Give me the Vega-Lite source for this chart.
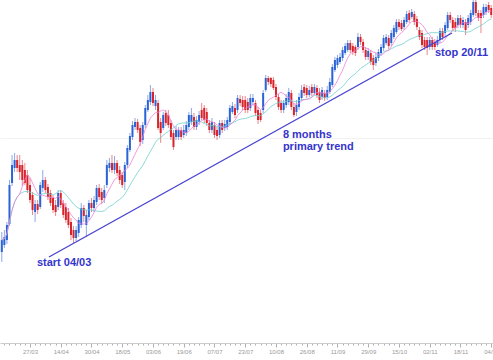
{
  "$schema": "https://vega.github.io/schema/vega-lite/v6.json",
  "width": 493,
  "height": 343,
  "autosize": "none",
  "padding": {"left": 0, "top": 0, "right": 0, "bottom": 17},
  "background": "white",
  "config": {"view": {"stroke": null}},
  "datasets": {
    "candles": [
      {"i":1,"o":91,"h":111,"l":81,"c":103},{"i":2,"o":98,"h":113,"l":95,"c":106},{"i":3,"o":103,"h":121,"l":99,"c":118},{"i":4,"o":119,"h":163,"l":117,"c":158},{"i":5,"o":160,"h":188,"l":157,"c":178},{"i":6,"o":175,"h":190,"l":171,"c":183},{"i":7,"o":183,"h":188,"l":171,"c":175},{"i":8,"o":178,"h":188,"l":163,"c":171},{"i":9,"o":178,"h":183,"l":157,"c":163},{"i":10,"o":173,"h":180,"l":158,"c":160},
      {"i":11,"o":168,"h":173,"l":150,"c":153},{"i":12,"o":158,"h":165,"l":140,"c":143},{"i":13,"o":148,"h":151,"l":128,"c":133},{"i":14,"o":131,"h":143,"l":121,"c":139},{"i":15,"o":139,"h":143,"l":129,"c":133},{"i":16,"o":136,"h":161,"l":134,"c":158},{"i":17,"o":155,"h":173,"l":151,"c":163},{"i":18,"o":163,"h":166,"l":150,"c":153},{"i":19,"o":156,"h":159,"l":143,"c":146},{"i":20,"o":150,"h":153,"l":137,"c":140},
      {"i":21,"o":145,"h":148,"l":130,"c":133},{"i":22,"o":138,"h":143,"l":127,"c":131},{"i":23,"o":136,"h":153,"l":133,"c":150},{"i":24,"o":150,"h":153,"l":135,"c":138},{"i":25,"o":140,"h":143,"l":125,"c":128},{"i":26,"o":136,"h":140,"l":120,"c":123},{"i":27,"o":131,"h":135,"l":115,"c":118},{"i":28,"o":121,"h":125,"l":103,"c":108},{"i":29,"o":113,"h":117,"l":100,"c":105},{"i":30,"o":105,"h":117,"l":102,"c":113},
      {"i":31,"o":110,"h":126,"l":106,"c":123},{"i":32,"o":118,"h":140,"l":115,"c":135},{"i":33,"o":135,"h":138,"l":121,"c":127},{"i":34,"o":118,"h":133,"l":106,"c":128},{"i":35,"o":126,"h":143,"l":123,"c":140},{"i":36,"o":140,"h":145,"l":131,"c":135},{"i":37,"o":135,"h":147,"l":131,"c":143},{"i":38,"o":141,"h":158,"l":138,"c":155},{"i":39,"o":155,"h":159,"l":143,"c":146},{"i":40,"o":151,"h":155,"l":139,"c":143},
      {"i":41,"o":145,"h":158,"l":140,"c":153},{"i":42,"o":158,"h":183,"l":155,"c":178},{"i":43,"o":175,"h":185,"l":171,"c":180},{"i":44,"o":180,"h":188,"l":170,"c":173},{"i":45,"o":173,"h":187,"l":169,"c":180},{"i":46,"o":180,"h":183,"l":167,"c":170},{"i":47,"o":173,"h":177,"l":159,"c":163},{"i":48,"o":168,"h":171,"l":155,"c":158},{"i":49,"o":161,"h":181,"l":153,"c":178},{"i":50,"o":178,"h":198,"l":175,"c":195},
      {"i":51,"o":193,"h":210,"l":191,"c":207},{"i":52,"o":206,"h":222,"l":203,"c":218},{"i":53,"o":216,"h":225,"l":213,"c":221},{"i":54,"o":221,"h":224,"l":210,"c":213},{"i":55,"o":215,"h":218,"l":197,"c":201},{"i":56,"o":203,"h":221,"l":199,"c":218},{"i":57,"o":218,"h":238,"l":215,"c":235},{"i":58,"o":233,"h":248,"l":231,"c":243},{"i":59,"o":241,"h":258,"l":238,"c":251},{"i":60,"o":251,"h":255,"l":237,"c":240},
      {"i":61,"o":237,"h":248,"l":233,"c":243},{"i":62,"o":240,"h":243,"l":213,"c":215},{"i":63,"o":221,"h":225,"l":200,"c":210},{"i":64,"o":215,"h":231,"l":213,"c":228},{"i":65,"o":230,"h":233,"l":217,"c":220},{"i":66,"o":228,"h":233,"l":215,"c":218},{"i":67,"o":220,"h":223,"l":203,"c":206},{"i":68,"o":210,"h":213,"l":193,"c":196},{"i":69,"o":206,"h":217,"l":203,"c":213},{"i":70,"o":206,"h":216,"l":203,"c":213},
      {"i":71,"o":213,"h":216,"l":203,"c":206},{"i":72,"o":208,"h":218,"l":205,"c":213},{"i":73,"o":210,"h":222,"l":207,"c":218},{"i":74,"o":216,"h":231,"l":213,"c":228},{"i":75,"o":221,"h":235,"l":218,"c":228},{"i":76,"o":226,"h":230,"l":213,"c":216},{"i":77,"o":216,"h":227,"l":213,"c":223},{"i":78,"o":221,"h":232,"l":218,"c":228},{"i":79,"o":233,"h":240,"l":223,"c":225},{"i":80,"o":235,"h":238,"l":220,"c":223},
      {"i":81,"o":231,"h":235,"l":217,"c":220},{"i":82,"o":220,"h":223,"l":210,"c":213},{"i":83,"o":213,"h":225,"l":210,"c":221},{"i":84,"o":218,"h":221,"l":205,"c":208},{"i":85,"o":213,"h":216,"l":203,"c":207},{"i":86,"o":208,"h":223,"l":205,"c":220},{"i":87,"o":220,"h":223,"l":210,"c":213},{"i":88,"o":215,"h":223,"l":212,"c":219},{"i":89,"o":216,"h":226,"l":213,"c":223},{"i":90,"o":221,"h":238,"l":218,"c":235},
      {"i":91,"o":231,"h":241,"l":229,"c":237},{"i":92,"o":235,"h":239,"l":225,"c":228},{"i":93,"o":233,"h":248,"l":230,"c":245},{"i":94,"o":244,"h":248,"l":237,"c":240},{"i":95,"o":243,"h":247,"l":233,"c":236},{"i":96,"o":243,"h":247,"l":230,"c":233},{"i":97,"o":241,"h":245,"l":230,"c":233},{"i":98,"o":235,"h":249,"l":232,"c":245},{"i":99,"o":241,"h":249,"l":238,"c":245},{"i":100,"o":240,"h":243,"l":227,"c":230},
      {"i":101,"o":233,"h":236,"l":219,"c":223},{"i":102,"o":230,"h":233,"l":221,"c":223},{"i":103,"o":233,"h":253,"l":230,"c":250},{"i":104,"o":253,"h":268,"l":251,"c":265},{"i":105,"o":265,"h":267,"l":258,"c":261},{"i":106,"o":265,"h":266,"l":256,"c":259},{"i":107,"o":263,"h":266,"l":253,"c":255},{"i":108,"o":256,"h":259,"l":243,"c":246},{"i":109,"o":246,"h":249,"l":233,"c":236},{"i":110,"o":240,"h":243,"l":230,"c":233},
      {"i":111,"o":233,"h":243,"l":230,"c":240},{"i":112,"o":238,"h":249,"l":235,"c":245},{"i":113,"o":241,"h":255,"l":238,"c":251},{"i":114,"o":250,"h":253,"l":233,"c":236},{"i":115,"o":236,"h":240,"l":226,"c":228},{"i":116,"o":231,"h":243,"l":227,"c":238},{"i":117,"o":236,"h":250,"l":233,"c":246},{"i":118,"o":245,"h":258,"l":242,"c":253},{"i":119,"o":256,"h":259,"l":247,"c":250},{"i":120,"o":255,"h":258,"l":245,"c":248},
      {"i":121,"o":248,"h":257,"l":246,"c":253},{"i":122,"o":256,"h":259,"l":247,"c":250},{"i":123,"o":250,"h":259,"l":248,"c":256},{"i":124,"o":255,"h":258,"l":245,"c":248},{"i":125,"o":251,"h":255,"l":240,"c":243},{"i":126,"o":246,"h":256,"l":243,"c":253},{"i":127,"o":250,"h":253,"l":242,"c":245},{"i":128,"o":246,"h":257,"l":243,"c":253},{"i":129,"o":251,"h":265,"l":249,"c":261},{"i":130,"o":258,"h":279,"l":256,"c":276},
      {"i":131,"o":273,"h":286,"l":271,"c":283},{"i":132,"o":278,"h":288,"l":275,"c":285},{"i":133,"o":281,"h":290,"l":279,"c":286},{"i":134,"o":285,"h":296,"l":282,"c":293},{"i":135,"o":290,"h":300,"l":288,"c":297},{"i":136,"o":293,"h":303,"l":291,"c":300},{"i":137,"o":300,"h":303,"l":290,"c":293},{"i":138,"o":297,"h":300,"l":288,"c":291},{"i":139,"o":296,"h":298,"l":287,"c":290},{"i":140,"o":296,"h":310,"l":293,"c":306},
      {"i":141,"o":306,"h":309,"l":298,"c":301},{"i":142,"o":301,"h":304,"l":290,"c":293},{"i":143,"o":293,"h":296,"l":283,"c":286},{"i":144,"o":286,"h":295,"l":283,"c":292},{"i":145,"o":290,"h":293,"l":278,"c":281},{"i":146,"o":285,"h":288,"l":273,"c":278},{"i":147,"o":280,"h":290,"l":277,"c":286},{"i":148,"o":285,"h":294,"l":282,"c":291},{"i":149,"o":290,"h":299,"l":287,"c":296},{"i":150,"o":295,"h":308,"l":292,"c":305},
      {"i":151,"o":300,"h":309,"l":298,"c":306},{"i":152,"o":305,"h":308,"l":294,"c":297},{"i":153,"o":300,"h":313,"l":297,"c":310},{"i":154,"o":306,"h":318,"l":304,"c":315},{"i":155,"o":311,"h":324,"l":309,"c":321},{"i":156,"o":321,"h":324,"l":313,"c":316},{"i":157,"o":320,"h":323,"l":312,"c":314},{"i":158,"o":316,"h":326,"l":313,"c":323},{"i":159,"o":321,"h":332,"l":319,"c":329},{"i":160,"o":330,"h":333,"l":320,"c":323},
      {"i":161,"o":326,"h":334,"l":324,"c":331},{"i":162,"o":329,"h":332,"l":318,"c":321},{"i":163,"o":324,"h":327,"l":313,"c":316},{"i":164,"o":313,"h":316,"l":303,"c":306},{"i":165,"o":310,"h":313,"l":295,"c":298},{"i":166,"o":303,"h":306,"l":293,"c":296},{"i":167,"o":303,"h":306,"l":288,"c":295},{"i":168,"o":296,"h":306,"l":293,"c":303},{"i":169,"o":303,"h":306,"l":293,"c":296},{"i":170,"o":301,"h":304,"l":293,"c":296},
      {"i":171,"o":298,"h":307,"l":296,"c":303},{"i":172,"o":303,"h":315,"l":300,"c":312},{"i":173,"o":312,"h":315,"l":303,"c":306},{"i":174,"o":310,"h":321,"l":307,"c":318},{"i":175,"o":315,"h":331,"l":313,"c":328},{"i":176,"o":328,"h":331,"l":320,"c":323},{"i":177,"o":323,"h":326,"l":312,"c":315},{"i":178,"o":321,"h":325,"l":311,"c":315},{"i":179,"o":318,"h":328,"l":315,"c":325},{"i":180,"o":325,"h":328,"l":315,"c":318},
      {"i":181,"o":318,"h":326,"l":315,"c":323},{"i":182,"o":321,"h":324,"l":308,"c":313},{"i":183,"o":318,"h":328,"l":315,"c":325},{"i":184,"o":321,"h":333,"l":318,"c":330},{"i":185,"o":328,"h":343,"l":326,"c":341},{"i":186,"o":341,"h":343,"l":327,"c":330},{"i":187,"o":330,"h":333,"l":322,"c":325},{"i":188,"o":330,"h":333,"l":310,"c":325},{"i":189,"o":328,"h":339,"l":325,"c":336},{"i":190,"o":331,"h":339,"l":328,"c":336},
      {"i":191,"o":338,"h":341,"l":330,"c":333},{"i":192,"o":335,"h":338,"l":325,"c":328}
    ],
    "trend": [{"i0": 19.4, "p0": 86, "i1": 176.7, "p1": 310}],
    "notes": [
      {"i": 14.7, "p": 77, "text": "start 04/03"},
      {"i": 110.7, "p": 205, "text": "8 months"},
      {"i": 110.7, "p": 193.5, "text": "primary trend"},
      {"i": 170.05, "p": 287.5, "text": "stop 20/11"}
    ]
  },
  "data": {"name": "candles"},
  "encoding": {
    "x": {
      "field": "i", "type": "quantitative",
      "scale": {"domain": [0.3, 192.7], "nice": false, "zero": false},
      "axis": {
        "title": null, "grid": false,
        "values": [0,2,4,6,8,10,12,14,16,18,20,22,24,26,28,30,32,34,36,38,40,42,44,46,48,50,52,54,56,58,60,62,64,66,68,70,72,74,76,78,80,82,84,86,88,90,92,94,96,98,100,102,104,106,108,110,112,114,116,118,120,122,124,126,128,130,132,134,136,138,140,142,144,146,148,150,152,154,156,158,160,162,164,166,168,170,172,174,176,178,180,182,184,186,188,190,192],
        "labelExpr": "datum.value % 12 === 0 ? ['11/03','27/03','14/04','30/04','18/05','03/06','19/06','07/07','23/07','10/08','26/08','11/09','29/09','15/10','02/11','18/11','04/12'][datum.value / 12] : ''",
        "labelFontSize": 6, "labelFont": "Liberation Sans", "labelColor": "#9a9a9a",
        "labelOverlap": false, "labelFlush": false, "labelBound": false, "labelPadding": 1,
        "domainColor": "#cccccc", "tickColor": "#b0b0b0",
        "tickSize": {"condition": {"test": "datum.value % 12 === 0", "value": 4}, "value": 2}
      }
    },
    "y": {
      "type": "quantitative",
      "scale": {"domain": [0, 343], "nice": false, "zero": false},
      "axis": {"title": null, "values": [205], "grid": true, "gridColor": "#f2f2f2", "domain": false, "ticks": false, "labels": false}
    }
  },
  "layer": [
    {
      "mark": {"type": "rule", "strokeWidth": 1, "opacity": 0.55},
      "encoding": {
        "y": {"field": "l", "type": "quantitative"},
        "y2": {"field": "h"},
        "color": {"condition": {"test": "datum.c >= datum.o", "value": "#2b63d6"}, "value": "#d9232b"}
      }
    },
    {
      "mark": {"type": "rule", "strokeWidth": 2, "strokeCap": "butt"},
      "encoding": {
        "y": {"field": "o", "type": "quantitative"},
        "y2": {"field": "c"},
        "color": {"condition": {"test": "datum.c >= datum.o", "value": "#2b63d6"}, "value": "#d9232b"}
      }
    },
    {
      "transform": [{"window": [{"op": "mean", "field": "c", "as": "ma_slow"}], "frame": [-20, 0], "sort": [{"field": "i"}]}],
      "mark": {"type": "line", "strokeWidth": 0.8, "color": "#6fcfcf", "clip": true},
      "encoding": {"y": {"field": "ma_slow", "type": "quantitative"}}
    },
    {
      "transform": [{"window": [{"op": "mean", "field": "c", "as": "ma_fast"}], "frame": [-7, 0], "sort": [{"field": "i"}]}],
      "mark": {"type": "line", "strokeWidth": 0.8, "color": "#ee82d8", "clip": true},
      "encoding": {"y": {"field": "ma_fast", "type": "quantitative"}}
    },
    {
      "data": {"name": "trend"},
      "mark": {"type": "rule", "strokeWidth": 1.4, "color": "#4a44d2"},
      "encoding": {
        "x": {"field": "i0", "type": "quantitative"},
        "x2": {"field": "i1"},
        "y": {"field": "p0", "type": "quantitative"},
        "y2": {"field": "p1"}
      }
    },
    {
      "data": {"name": "notes"},
      "mark": {"type": "text", "align": "left", "baseline": "alphabetic", "font": "Liberation Sans", "fontWeight": "bold", "fontSize": 11, "color": "#3535cc"},
      "encoding": {
        "x": {"field": "i", "type": "quantitative"},
        "y": {"field": "p", "type": "quantitative"},
        "text": {"field": "text"}
      }
    }
  ]
}
